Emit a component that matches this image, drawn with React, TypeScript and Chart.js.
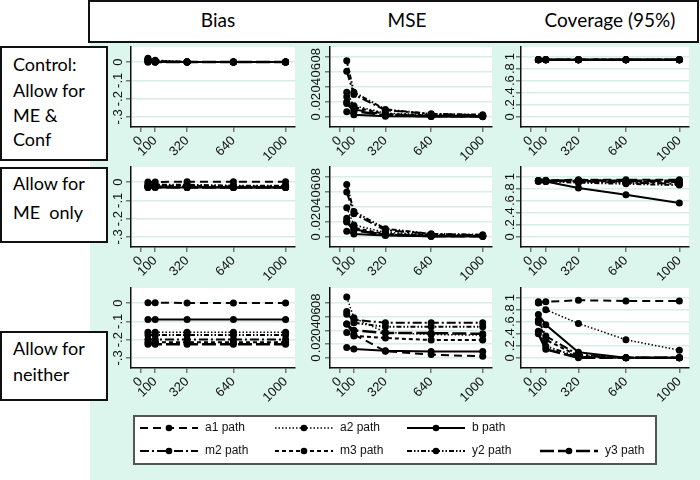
import React, { useEffect, useRef } from 'react';
import { Chart, registerables } from 'chart.js';

Chart.register(...registerables);

// ---------------- data ----------------
const sampleSizes = [50, 100, 320, 640, 1000];
const xTickValues = [0, 100, 320, 640, 1000];
const seriesNames = ['a1 path', 'a2 path', 'b path', 'm2 path', 'm3 path', 'y2 path', 'y3 path'];
const columnTitles = ['Bias', 'MSE', 'Coverage (95%)'];
const rowTitles = [['Control:', 'Allow for', 'ME &', 'Conf'], ['Allow for', 'ME\u00a0\u00a0only'], ['Allow for', 'neither']];

const biasTicks = [0, -0.1, -0.2, -0.3];
const mseTicks = [0, 0.02, 0.04, 0.06, 0.08];
const coverageTicks = [0, 0.2, 0.4, 0.6, 0.8, 1];

// series order: a1, a2, b, m2, m3, y2, y3
const biasControl = [
  [0.01, 0.005, 0, 0, 0],
  [0.02, 0.01, 0.002, 0, 0],
  [0, 0, 0, 0, 0],
  [0.005, 0, 0, 0, 0],
  [0.015, 0.005, 0, 0, 0],
  [0.01, 0, 0, 0, 0],
  [0, 0, 0, 0, 0],
];
const mseControl = [
  [0.02, 0.01, 0.003, 0.001, 0.001],
  [0.033, 0.015, 0.005, 0.003, 0.002],
  [0.007, 0.003, 0.001, 0.0005, 0.0003],
  [0.061, 0.03, 0.009, 0.004, 0.002],
  [0.027, 0.013, 0.004, 0.002, 0.001],
  [0.075, 0.033, 0.01, 0.004, 0.003],
  [0.018, 0.008, 0.002, 0.001, 0.001],
];
const coverageControl = [
  [0.95, 0.95, 0.95, 0.95, 0.95],
  [0.95, 0.95, 0.95, 0.95, 0.95],
  [0.95, 0.95, 0.95, 0.95, 0.95],
  [0.95, 0.95, 0.95, 0.95, 0.95],
  [0.95, 0.95, 0.95, 0.95, 0.95],
  [0.95, 0.95, 0.95, 0.95, 0.95],
  [0.95, 0.95, 0.95, 0.95, 0.95],
];
const biasMEOnly = [
  [0, 0, 0.002, 0.002, 0.002],
  [-0.02, -0.02, -0.02, -0.02, -0.02],
  [-0.03, -0.03, -0.03, -0.03, -0.03],
  [-0.025, -0.025, -0.025, -0.03, -0.03],
  [-0.02, -0.02, -0.02, -0.025, -0.025],
  [-0.01, -0.015, -0.015, -0.02, -0.02],
  [-0.03, -0.028, -0.03, -0.03, -0.03],
];
const mseMEOnly = [
  [0.021, 0.01, 0.003, 0.001, 0.001],
  [0.039, 0.016, 0.006, 0.003, 0.002],
  [0.0075, 0.004, 0.002, 0.001, 0.001],
  [0.06, 0.031, 0.009, 0.004, 0.002],
  [0.025, 0.012, 0.004, 0.002, 0.001],
  [0.07, 0.034, 0.011, 0.004, 0.003],
  [0.02, 0.009, 0.003, 0.001, 0.001],
];
const coverageMEOnly = [
  [0.93, 0.94, 0.95, 0.95, 0.95],
  [0.93, 0.93, 0.92, 0.91, 0.9],
  [0.93, 0.92, 0.81, 0.7, 0.56],
  [0.93, 0.93, 0.92, 0.9, 0.88],
  [0.93, 0.93, 0.93, 0.92, 0.91],
  [0.92, 0.92, 0.9, 0.88, 0.86],
  [0.93, 0.93, 0.94, 0.93, 0.93],
];
const biasNeither = [
  [0.002, 0.002, 0, 0, 0],
  [-0.16, -0.16, -0.16, -0.16, -0.16],
  [-0.09, -0.09, -0.09, -0.09, -0.09],
  [-0.2, -0.2, -0.2, -0.2, -0.2],
  [-0.215, -0.215, -0.215, -0.215, -0.215],
  [-0.175, -0.175, -0.175, -0.175, -0.175],
  [-0.225, -0.225, -0.225, -0.225, -0.225],
];
const mseNeither = [
  [0.049, 0.034, 0.01, 0.005, 0.0025],
  [0.088, 0.058, 0.037, 0.034, 0.033],
  [0.0153, 0.013, 0.0105, 0.0096, 0.0096],
  [0.063, 0.055, 0.051, 0.051, 0.051],
  [0.037, 0.032, 0.029, 0.026, 0.026],
  [0.067, 0.051, 0.045, 0.045, 0.045],
  [0.049, 0.04, 0.036, 0.036, 0.035],
];
const coverageNeither = [
  [0.91, 0.93, 0.956, 0.945, 0.945],
  [0.93, 0.8, 0.57, 0.3, 0.126],
  [0.72, 0.55, 0.09, 0, 0],
  [0.63, 0.36, 0.05, 0, 0],
  [0.585, 0.3, 0.03, 0, 0],
  [0.44, 0.19, 0.016, 0, 0],
  [0.4, 0.14, 0, 0, 0],
];

// ---------------- styles ----------------
const seriesStyles = [
  { dash: [8, 5], width: 2 },
  { dash: [1.5, 2], width: 1.5 },
  { dash: [] as number[], width: 2 },
  { dash: [9, 3, 2, 3], width: 2 },
  { dash: [4, 3], width: 2 },
  { dash: [5, 2, 1.5, 2, 1.5, 2], width: 2 },
  { dash: [14, 4], width: 2.5 },
];

const MINT = '#dcf6ed';
const GRID = '#d6eee6';
const TICK_FONT = { family: '"Liberation Sans", Arial, sans-serif', size: 13 };
const LABEL_FONT = 'Lato, "Open Sans", sans-serif';

const AXIS_W = 40;
const AXIS_H = 42;
const PAD_T = 10;
const PAD_R = 8;
const PLOT_H = 80;

const colLefts = [131, 330, 521];
const colWidths = [164, 162, 168];
const rowTops = [47, 167, 288];

function fmtTick(v: number): string {
  if (v === 0) return '0';
  const s = String(Math.round(v * 1000) / 1000);
  return s.replace(/^(-?)0\./, '$1.');
}

const whiteArea = {
  id: 'whiteArea',
  beforeDraw(chart: any) {
    const { ctx, chartArea } = chart;
    ctx.save();
    ctx.fillStyle = '#ffffff';
    ctx.fillRect(chartArea.left, chartArea.top, chartArea.right - chartArea.left, chartArea.bottom - chartArea.top);
    ctx.restore();
  },
};

type PanelProps = {
  col: number;
  row: number;
  values: number[][];
  yTicks: number[];
  yMin: number;
  yMax: number;
};

function Panel({ col, row, values, yTicks, yMin, yMax }: PanelProps) {
  const ref = useRef<HTMLCanvasElement>(null);
  const width = AXIS_W + colWidths[col] + PAD_R;
  const height = PAD_T + PLOT_H + AXIS_H;
  useEffect(() => {
    const chart = new Chart(ref.current as HTMLCanvasElement, {
      type: 'line',
      data: {
        datasets: seriesStyles.map((s, i) => ({
          label: seriesNames[i],
          data: sampleSizes.map((x, j) => ({ x, y: values[i][j] })),
          borderColor: '#000',
          backgroundColor: '#000',
          borderWidth: s.width,
          borderDash: s.dash,
          pointRadius: 3.5,
          pointBackgroundColor: '#000',
          pointBorderColor: '#000',
          pointBorderWidth: 0,
          tension: 0,
          fill: false,
        })),
      },
      options: {
        animation: false,
        responsive: false,
        maintainAspectRatio: false,
        layout: { padding: { top: PAD_T, right: PAD_R, left: 0, bottom: 0 } },
        plugins: { legend: { display: false }, tooltip: { enabled: false } },
        scales: {
          x: {
            type: 'linear',
            min: -67,
            max: 1065,
            afterBuildTicks: (s: any) => {
              s.ticks = xTickValues.map((v) => ({ value: v }));
            },
            afterFit: (s: any) => {
              s.height = AXIS_H;
            },
            ticks: {
              autoSkip: false,
              minRotation: 45,
              maxRotation: 45,
              padding: 1,
              color: '#111',
              font: TICK_FONT,
              callback: (v: any) => String(v),
            },
            grid: { drawOnChartArea: false, drawTicks: true, tickLength: 5, tickColor: '#777', lineWidth: 1.5 },
            border: { display: true, color: '#111', width: 1.5 },
          },
          y: {
            type: 'linear',
            min: yMin,
            max: yMax,
            afterBuildTicks: (s: any) => {
              s.ticks = yTicks.map((v) => ({ value: v }));
            },
            afterFit: (s: any) => {
              s.width = AXIS_W;
            },
            ticks: {
              autoSkip: false,
              minRotation: 90,
              maxRotation: 90,
              crossAlign: 'center',
              padding: 0,
              color: '#111',
              font: TICK_FONT,
              callback: (v: any) => fmtTick(Number(v)),
            },
            grid: { color: GRID, lineWidth: 1.5, drawTicks: true, tickLength: 5, tickColor: '#777' },
            border: { display: true, color: '#111', width: 1.5 },
          },
        },
      } as any,
      plugins: [whiteArea],
    });
    return () => chart.destroy();
  }, []);
  return (
    <canvas
      ref={ref}
      width={width}
      height={height}
      style={{ position: 'absolute', left: colLefts[col] - AXIS_W, top: rowTops[row] - PAD_T, width, height }}
    />
  );
}

const legendCols = [140, 275, 407, 540];
const legendRows = [428, 451];
const legendSlots = [
  [0, 0], [1, 0], [2, 0],
  [0, 1], [1, 1], [2, 1], [3, 1],
];

function Legend() {
  return (
    <div>
      <div style={{ position: 'absolute', left: 133, top: 415, width: 520, height: 46, background: '#fff', border: '2px solid #555' }} />
      {seriesNames.map((name, i) => {
        const [c, r] = legendSlots[i];
        const st = seriesStyles[i];
        return (
          <div key={name}>
            <svg style={{ position: 'absolute', left: legendCols[c], top: legendRows[r] - 6 }} width={58} height={12}>
              <line x1={0} y1={6} x2={58} y2={6} stroke="#000" strokeWidth={st.width} strokeDasharray={st.dash.length ? st.dash.join(' ') : undefined} />
              <circle cx={29} cy={6} r={3.3} fill="#000" />
            </svg>
            <div style={{ position: 'absolute', left: legendCols[c] + 65, top: legendRows[r] - 8, font: '12px "Liberation Sans", Arial, sans-serif', color: '#111', whiteSpace: 'nowrap' }}>{name}</div>
          </div>
        );
      })}
    </div>
  );
}

const rowBoxes = [
  { top: 46, height: 111, lines: [65, 91, 116, 140] },
  { top: 167, height: 72, lines: [184, 213] },
  { top: 331, height: 66, lines: [349, 375] },
];
const headerCenters = [218, 407, 610];

export default function App() {
  const panels = [
    { values: biasControl, yTicks: biasTicks, yMin: -0.355, yMax: 0.082 },
    { values: mseControl, yTicks: mseTicks, yMin: -0.0135, yMax: 0.0935 },
    { values: coverageControl, yTicks: coverageTicks, yMin: -0.17, yMax: 1.16 },
    { values: biasMEOnly, yTicks: biasTicks, yMin: -0.355, yMax: 0.082 },
    { values: mseMEOnly, yTicks: mseTicks, yMin: -0.0135, yMax: 0.0935 },
    { values: coverageMEOnly, yTicks: coverageTicks, yMin: -0.17, yMax: 1.16 },
    { values: biasNeither, yTicks: biasTicks, yMin: -0.355, yMax: 0.082 },
    { values: mseNeither, yTicks: mseTicks, yMin: -0.0143, yMax: 0.101 },
    { values: coverageNeither, yTicks: coverageTicks, yMin: -0.17, yMax: 1.16 },
  ];
  return (
    <div style={{ position: 'absolute', left: 0, top: 0, width: 700, height: 480, background: '#fff', overflow: 'hidden' }}>
      <div style={{ position: 'absolute', left: 90, top: 40, width: 610, height: 440, background: MINT }} />
      <div style={{ position: 'absolute', left: 88, top: 0, width: 607, height: 39, background: '#fff', border: '2px solid #111' }} />
      {columnTitles.map((t, i) => (
        <div key={t} style={{ position: 'absolute', left: headerCenters[i] - 100, width: 200, top: 8, textAlign: 'center', font: `19px ${LABEL_FONT}`, color: '#000' }}>{t}</div>
      ))}
      {rowBoxes.map((b, i) => (
        <div key={i}>
          <div style={{ position: 'absolute', left: 0, top: b.top, width: 104, height: b.height, background: '#fff', border: '2px solid #111' }} />
          {rowTitles[i].map((line, j) => (
            <div key={j} style={{ position: 'absolute', left: 13, top: b.lines[j] - 12, font: `18px ${LABEL_FONT}`, color: '#000', whiteSpace: 'pre' }}>{line}</div>
          ))}
        </div>
      ))}
      {panels.map((p, k) => (
        <Panel key={k} col={k % 3} row={Math.floor(k / 3)} values={p.values} yTicks={p.yTicks} yMin={p.yMin} yMax={p.yMax} />
      ))}
      <Legend />
    </div>
  );
}
